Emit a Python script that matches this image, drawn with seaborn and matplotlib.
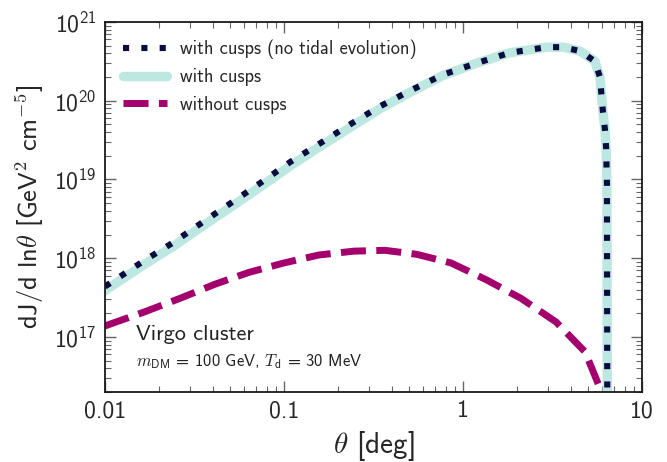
import numpy as np
import pandas as pd
import matplotlib
matplotlib.use("Agg")
import matplotlib.pyplot as plt
import matplotlib.ticker as mticker
import seaborn as sns

# ---- data ----
theta_cusps = [0.010, 0.0113, 0.0163, 0.024, 0.0352, 0.0512, 0.0753, 0.108, 0.159,
               0.234, 0.344, 0.519, 0.773, 1.20, 1.83, 2.94, 3.62, 4.51, 5.46,
               5.82, 6.05, 6.21, 6.30, 6.37, 6.40]
J_no_tidal = [4.37e17, 5.25e17, 9.12e17, 1.58e18, 2.88e18, 5.13e18, 9.33e18, 1.66e19,
              2.88e19, 5.01e19, 8.51e19, 1.38e20, 2.14e20, 3.02e20, 4.07e20, 4.79e20,
              4.79e20, 4.27e20, 3.16e20, 2.00e20, 7.24e19, 4.27e19, 2.57e19, 8.91e18, 1.0e16]
J_cusps = [3.89e17, 4.68e17, 8.13e17, 1.41e18, 2.57e18, 4.57e18, 8.32e18, 1.48e19,
           2.63e19, 4.57e19, 7.94e19, 1.32e20, 2.09e20, 3.02e20, 4.07e20, 4.79e20,
           4.79e20, 4.27e20, 3.16e20, 2.00e20, 7.24e19, 4.27e19, 2.57e19, 8.91e18, 1.0e16]
theta_nocusps = [0.010, 0.0167, 0.0262, 0.0412, 0.0637, 0.100, 0.157, 0.246, 0.366,
                 0.553, 0.857, 1.34, 2.11, 3.31, 4.81, 5.68, 5.90]
J_nocusps = [1.38e17, 2.09e17, 3.09e17, 4.68e17, 6.61e17, 8.71e17, 1.10e18, 1.23e18,
             1.26e18, 1.12e18, 8.71e17, 5.37e17, 3.09e17, 1.55e17, 6.46e16, 2.57e16, 2.1e16]

labels = ["with cusps (no tidal evolution)", "with cusps", "without cusps"]
x_ticks = [0.01, 0.1, 1, 10]
x_ticklabels = ["0.01", "0.1", "1", "10"]

sns.set_style("ticks")
plt.rcParams["font.family"] = ["cmss10", "DejaVu Sans"]
plt.rcParams["mathtext.fontset"] = "cm"
plt.rcParams["axes.unicode_minus"] = False
plt.rcParams["axes.formatter.use_mathtext"] = True

fig = plt.figure(figsize=(6.67, 4.62), dpi=100)
ax = fig.add_axes([105 / 667, 1 - 392 / 462, 537 / 667, 370 / 462])
ax.set_xscale("log")
ax.set_yscale("log")

df1 = pd.DataFrame({"theta": theta_cusps, "J": J_no_tidal})
df2 = pd.DataFrame({"theta": theta_cusps, "J": J_cusps})
df3 = pd.DataFrame({"theta": theta_nocusps, "J": J_nocusps})

navy = "#0b0b40"
teal = "#bde8e1"
magenta = "#a3006e"

sns.lineplot(data=df2, x="theta", y="J", ax=ax, color=teal, lw=6.8,
             solid_capstyle="round", estimator=None, sort=False, label=labels[1])
sns.lineplot(data=df1, x="theta", y="J", ax=ax, color=navy, lw=4.4,
             linestyle=(0, (1.0, 2.0)), dash_capstyle="butt", estimator=None,
             sort=False, label=labels[0])
sns.lineplot(data=df3, x="theta", y="J", ax=ax, color=magenta, lw=5.0,
             linestyle=(0, (3.6, 1.5)), dash_capstyle="butt", estimator=None,
             sort=False, label=labels[2])

ax.set_xlim(0.01, 10)
ax.set_ylim(2e16, 1e21)

ax.xaxis.set_major_locator(mticker.FixedLocator(x_ticks))
ax.xaxis.set_major_formatter(mticker.FixedFormatter(x_ticklabels))
ax.xaxis.set_minor_locator(mticker.LogLocator(base=10, subs=np.arange(2, 10), numticks=20))
ax.xaxis.set_minor_formatter(mticker.NullFormatter())
ax.yaxis.set_major_locator(mticker.LogLocator(base=10, numticks=10))
ax.yaxis.set_major_formatter(
    mticker.FuncFormatter(lambda v, p: r"$\mathdefault{10^{%d}}$" % int(round(np.log10(v)))))
ax.yaxis.set_minor_locator(mticker.LogLocator(base=10, subs=np.arange(2, 10), numticks=20))
ax.yaxis.set_minor_formatter(mticker.NullFormatter())

ax.tick_params(which="both", direction="in", top=True, right=True, color="#666666",
               labelsize=17, pad=6)
ax.tick_params(which="major", length=8, width=1.0)
ax.tick_params(which="minor", length=4, width=0.8)
for s in ax.spines.values():
    s.set_linewidth(1.3)
    s.set_color("#1a1a1a")

ax.set_xlabel(r"$\theta$ [deg]", fontsize=21, labelpad=4)
ax.set_ylabel(r"dJ/d ln$\theta$ [GeV$^{2}$ cm$^{-5}$]", fontsize=19, labelpad=6)

handles, labs = ax.get_legend_handles_labels()
order = [labs.index(l) for l in labels]
leg = ax.legend([handles[i] for i in order], [labs[i] for i in order], loc="upper left",
                frameon=False, fontsize=13.3, handlelength=2.4, handletextpad=0.7,
                labelspacing=0.5, borderaxespad=0.5, borderpad=0.45)

ax.text(0.058, 0.155, "Virgo cluster", transform=ax.transAxes, fontsize=16,
        va="center", ha="left", color="#222222")
ax.text(0.058, 0.082, r"$m_{\mathsf{DM}}$ = 100 GeV, $T_{\mathsf{d}}$ = 30 MeV",
        transform=ax.transAxes, fontsize=12, va="center", ha="left", color="#222222")

fig.savefig("out.png", dpi=100)
